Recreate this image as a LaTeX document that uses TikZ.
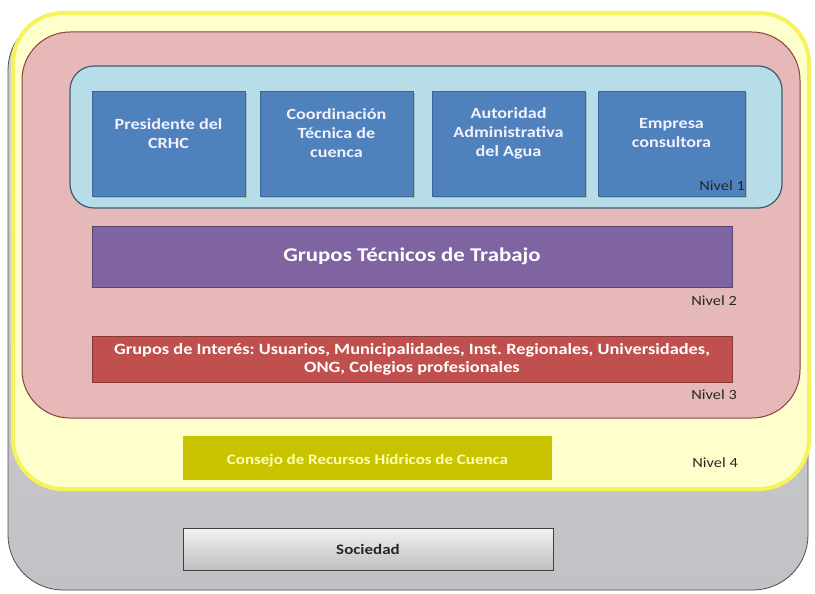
\documentclass[tikz,border=0pt]{standalone}
\usepackage{fontspec}
\setmainfont[FakeStretch=1.17]{Carlito}
\usetikzlibrary{shadows}
\definecolor{grayfill}{HTML}{C2C2C6}
\definecolor{yellowfill}{HTML}{FFFFCC}
\definecolor{yellowglow}{HTML}{F4F45A}
\definecolor{pinkfill}{HTML}{E6B9B8}
\definecolor{pinkline}{HTML}{8A4040}
\definecolor{bluefill}{HTML}{B7DDE8}
\definecolor{blueline}{HTML}{3E5A70}
\definecolor{boxblue}{HTML}{4F81BD}
\definecolor{boxblueline}{HTML}{3B6796}
\definecolor{purplefill}{HTML}{8064A2}
\definecolor{redfill}{HTML}{C0504D}
\definecolor{olivefill}{HTML}{C8C400}
\definecolor{olivetext}{HTML}{FFFFB0}
\tikzset{
  layer/.style={rounded corners=#1, inner sep=0pt},
  topbox/.style={fill=boxblue, draw=boxblueline, line width=0.8pt, inner sep=0pt,
    minimum height=105pt, drop shadow={opacity=0.35, shadow xshift=2pt, shadow yshift=-2pt}},
  toptext/.style={inner sep=0pt, text=white!95!blue, align=center,
    font=\bfseries\fontsize{15.5}{19}\selectfont},
  bandbox/.style={inner sep=2pt, text=white, align=center},
  nivel/.style={anchor=east, inner sep=0pt, font=\fontsize{14}{16}\selectfont, text=black!85}
}
\begin{document}
\frenchspacing
\begin{tikzpicture}[x=1pt, y=-1pt]
\useasboundingbox (0,0) rectangle (815,594);
% outer gray layer
\node (gray) [layer=55, top color=grayfill!75!white, bottom color=grayfill, draw=black!70, line width=0.8pt,
  minimum width=800pt, minimum height=575pt] at (408,302.5) {};
% yellow layer
\node (yellow) [layer=50, fill=yellowfill, draw=yellowglow, line width=4pt,
  minimum width=796pt, minimum height=476pt] at (411,251) {};
% pink layer
\node (pink) [layer=48, fill=pinkfill, draw=pinkline, line width=1pt,
  minimum width=778pt, minimum height=386pt] at (411,225) {};
% light blue layer
\node (blue) [layer=24, fill=bluefill, draw=blueline, line width=1.2pt,
  minimum width=712pt, minimum height=142pt] at (426,137) {};
% Level 1 boxes
\node (b1) [topbox, minimum width=153pt] at (168.5,143.5) {};
\node (b2) [topbox, minimum width=153pt] at (336.5,143.5) {};
\node (b3) [topbox, minimum width=153pt] at (508.5,143.5) {};
\node (b4) [topbox, minimum width=147pt] at (671.5,143.5) {};
\node (t1) [toptext] at ([yshift=10pt]b1.center) {Presidente del\\CRHC};
\node (t2) [toptext] at ([yshift=10pt]b2.center) {Coordinación\\Técnica de\\cuenca};
\node (t3) [toptext] at ([yshift=10pt]b3.center) {Autoridad\\Administrativa\\del Agua};
\node (t4) [toptext] at ([yshift=10pt]b4.center) {Empresa\\consultora};
\node (n1) [nivel] at (745,186) {Nivel 1};
% Level 2
\node (gtt) [bandbox, fill=purplefill, minimum width=640pt, minimum height=61pt,
  font=\bfseries\fontsize{19.5}{22}\selectfont, draw=purplefill!70!black, line width=0.6pt] at (412,256.5) {Grupos Técnicos de Trabajo};
\node (n2) [nivel] at (737,301) {Nivel 2};
% Level 3
\node (gi) [bandbox, fill=redfill, minimum width=640pt, minimum height=46pt,
  font=\bfseries\fontsize{15.7}{18}\selectfont, draw=redfill!70!black, line width=0.6pt] at (412,359)
  {Grupos de Interés: Usuarios, Municipalidades, Inst. Regionales, Universidades,\\ONG, Colegios profesionales};
\node (n3) [nivel] at (737,395) {Nivel 3};
% Level 4
\node (crhc) [bandbox, fill=olivefill, minimum width=369pt, minimum height=44pt] at (367.5,458) {};
\node (crhct) [inner sep=0pt, text=olivetext, font=\bfseries\fontsize{14.5}{16}\selectfont]
  at ([yshift=-3pt]crhc.center) {Consejo de Recursos Hídricos de Cuenca};
\node (n4) [nivel] at (738,463) {Nivel 4};
% Sociedad
\node (soc) [inner sep=0pt, top color=white!95!black, bottom color=black!25, draw=black!75, line width=1pt,
  minimum width=370pt, minimum height=42pt, font=\bfseries\fontsize{14.5}{16}\selectfont, text=black!85] at (368,549) {Sociedad};
\end{tikzpicture}
\end{document}
